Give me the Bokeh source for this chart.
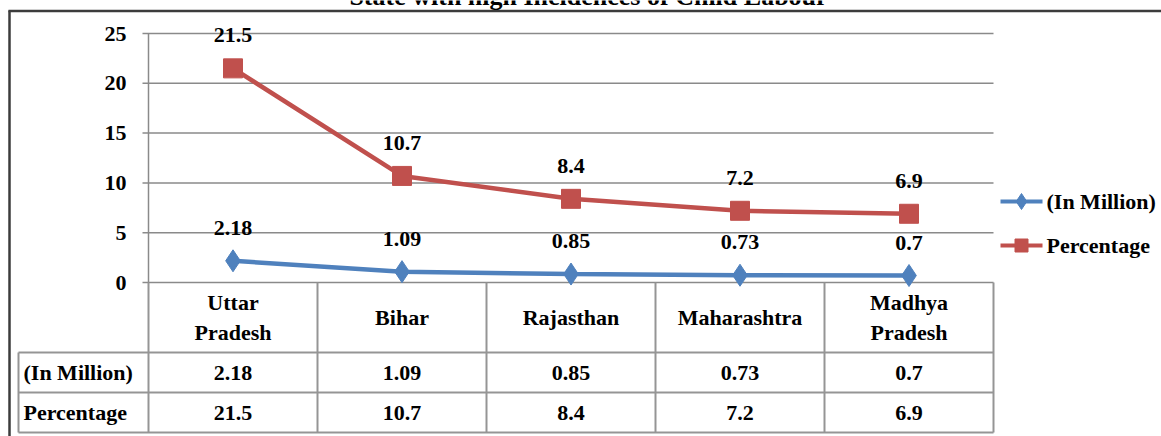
from bokeh.plotting import figure
from bokeh.models import Range1d
from bokeh.core.properties import value
from bokeh.embed import file_html
from bokeh.resources import INLINE

# ---------------- data ----------------
title = "State with high Incidences of Child Labour"
states = ["Uttar\nPradesh", "Bihar", "Rajasthan", "Maharashtra", "Madhya\nPradesh"]
millions = [2.18, 1.09, 0.85, 0.73, 0.7]
percentage = [21.5, 10.7, 8.4, 7.2, 6.9]
million_labels = ["2.18", "1.09", "0.85", "0.73", "0.7"]
percentage_labels = ["21.5", "10.7", "8.4", "7.2", "6.9"]
series_names = ["(In Million)", "Percentage"]
y_ticks = [0, 5, 10, 15, 20, 25]

# ---------------- layout / style ----------------
W, H = 1161, 436
PX_PER_CAT = 169.0
PX_PER_UNIT = 9.96
LEFT_PX = 148.0      # window x of the plot-area left edge
ZERO_PY = 282.0      # window y of value 0
FONT = value("Liberation Serif")
FS = "22px"
BLUE = "#4F81BD"
RED = "#C0504D"
GRID = "#8a8a8a"
TABLE = "#959595"
BORDER = "#3c3c3c"

x_start = -0.5 - LEFT_PX / PX_PER_CAT
x_end = x_start + W / PX_PER_CAT
y_end = ZERO_PY / PX_PER_UNIT
y_start = y_end - H / PX_PER_UNIT


def wx(px):
    return x_start + px / PX_PER_CAT


def wy(py):
    return y_end - py / PX_PER_UNIT


n = len(states)
idx = list(range(n))

p = figure(width=W, height=H, x_range=Range1d(x_start, x_end), y_range=Range1d(y_start, y_end),
           output_backend="svg", toolbar_location=None, min_border=0,
           x_axis_location=None, y_axis_location=None)
p.grid.visible = False
p.outline_line_color = None
p.background_fill_color = "white"
p.border_fill_color = "white"

# outer frame (top + left)
p.segment(x0=[wx(8), wx(9)], y0=[wy(10.5), wy(10)], x1=[wx(1161), wx(9)], y1=[wy(10.5), wy(436)],
          line_color=BORDER, line_width=2.5)

# title (mostly cut off at the top, as in the source image)
p.text(x=[wx(588)], y=[wy(1)], text=[title], text_font=FONT, text_font_style="bold",
       text_font_size="26px", text_align="center", text_baseline="middle", y_offset=-5,
       text_color="black")

# gridlines and tick marks
p.segment(x0=[wx(142)] * len(y_ticks), y0=y_ticks, x1=[n - 0.5] * len(y_ticks), y1=y_ticks,
          line_color=GRID, line_width=1.5)
# y axis line
p.segment(x0=[-0.5], y0=[0], x1=[-0.5], y1=[max(y_ticks)], line_color=GRID, line_width=1.5)
# tick labels
p.text(x=[wx(126)] * len(y_ticks), y=y_ticks, text=[str(t) for t in y_ticks], text_font=FONT,
       text_font_style="bold", text_font_size=FS, text_align="right", text_baseline="middle",
       text_color="black")

# series
p.line(idx, millions, line_color=BLUE, line_width=4.5)
p.scatter(idx, millions, marker="diamond", size=22, fill_color=BLUE, line_color=BLUE)
p.line(idx, percentage, line_color=RED, line_width=4.5)
p.scatter(idx, percentage, marker="square", size=19, fill_color=RED, line_color=RED)

# data labels
for vals, labs in ((millions, million_labels), (percentage, percentage_labels)):
    p.text(x=idx, y=vals, text=labs, text_font=FONT, text_font_style="bold", text_font_size=FS,
           text_align="center", text_baseline="middle", y_offset=-33, text_color="black")

# ---------------- data table ----------------
row1_top, row2_top, table_bottom = wy(352), wy(392), wy(432)
bounds = [i - 0.5 for i in range(n + 1)]
p.segment(x0=bounds, y0=[0] * len(bounds), x1=bounds, y1=[table_bottom] * len(bounds),
          line_color=TABLE, line_width=2)
p.segment(x0=[wx(18)] * 3, y0=[row1_top, row2_top, table_bottom], x1=[n - 0.5] * 3,
          y1=[row1_top, row2_top, table_bottom], line_color=TABLE, line_width=2)
p.segment(x0=[wx(18)], y0=[row1_top], x1=[wx(18)], y1=[table_bottom], line_color=TABLE, line_width=2)

p.text(x=idx, y=[wy(317)] * n, text=states, text_font=FONT, text_font_style="bold",
       text_font_size=FS, text_align="center", text_baseline="middle", text_line_height=1.22,
       text_color="black")
p.text(x=[wx(23)] * 2, y=[wy(372), wy(412)], text=series_names, text_font=FONT, text_font_style="bold",
       text_font_size=FS, text_align="left", text_baseline="middle", text_color="black")
p.text(x=idx, y=[wy(372)] * n, text=million_labels, text_font=FONT, text_font_style="bold",
       text_font_size=FS, text_align="center", text_baseline="middle", text_color="black")
p.text(x=idx, y=[wy(412)] * n, text=percentage_labels, text_font=FONT, text_font_style="bold",
       text_font_size=FS, text_align="center", text_baseline="middle", text_color="black")

# ---------------- legend ----------------
for py, col, mk, sz in ((201, BLUE, "diamond", 16), (245, RED, "square", 13)):
    p.segment(x0=[wx(1000)], y0=[wy(py)], x1=[wx(1042)], y1=[wy(py)], line_color=col, line_width=4)
    p.scatter([wx(1021)], [wy(py)], marker=mk, size=sz, fill_color=col, line_color=col)
p.text(x=[wx(1046)] * 2, y=[wy(201), wy(245)], text=series_names, text_font=FONT, text_font_style="bold",
       text_font_size=FS, text_align="left", text_baseline="middle", text_color="black")

open("out.html", "w").write(file_html(p, INLINE))
